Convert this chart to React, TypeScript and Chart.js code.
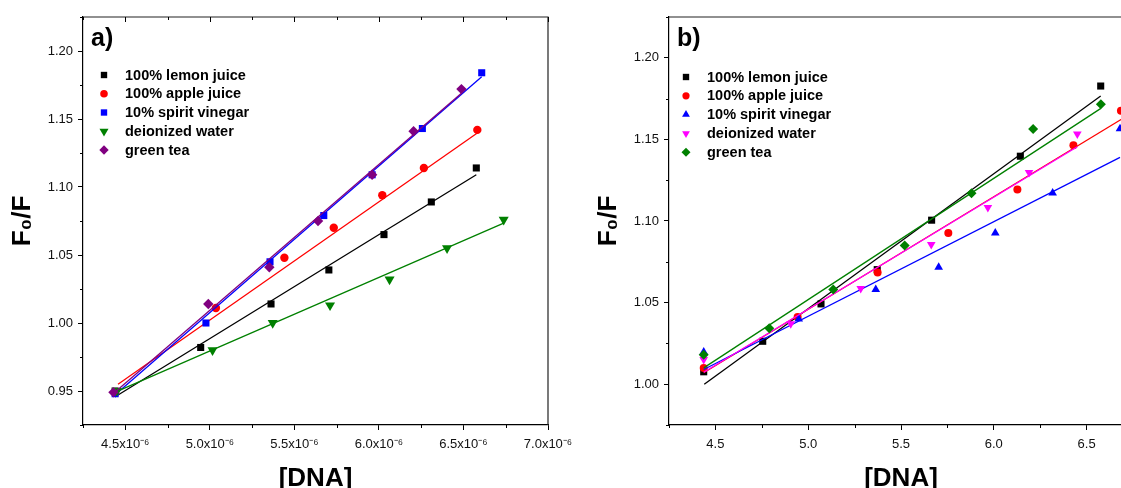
import React, { useEffect, useRef } from 'react';
import { Chart, registerables } from 'chart.js';
import { drawPoint } from 'chart.js/helpers';

Chart.register(...registerables);

const FONT = "'Liberation Sans', Arial, Helvetica, sans-serif";
Chart.defaults.font.family = FONT;
Chart.defaults.color = '#000';

// ---------------- shared ----------------
const seriesNames = ['100% lemon juice', '100% apple juice', '10% spirit vinegar', 'deionized water', 'green tea'];

// ---------------- panel a) ----------------
const aXTicks = [4.5, 5.0, 5.5, 6.0, 6.5, 7.0];
const aXTickLabels = ['4.5x10⁻⁶', '5.0x10⁻⁶', '5.5x10⁻⁶', '6.0x10⁻⁶', '6.5x10⁻⁶', '7.0x10⁻⁶'];
const aYTicks = [0.95, 1.0, 1.05, 1.1, 1.15, 1.2];
const aYTickLabels = ['0.95', '1.00', '1.05', '1.10', '1.15', '1.20'];

const aLemonX = [4.44, 4.946, 5.362, 5.704, 6.03, 6.31, 6.576];
const aLemonY = [0.95, 0.982, 1.014, 1.039, 1.065, 1.089, 1.114];
const aAppleX = [4.44, 5.036, 5.441, 5.733, 6.02, 6.266, 6.582];
const aAppleY = [0.949, 1.011, 1.048, 1.07, 1.094, 1.114, 1.142];
const aVinegarX = [4.44, 4.977, 5.356, 5.674, 5.96, 6.257, 6.608];
const aVinegarY = [0.948, 1.0, 1.045, 1.079, 1.109, 1.143, 1.184];
const aWaterX = [4.45, 5.016, 5.372, 5.711, 6.063, 6.403, 6.738];
const aWaterY = [0.95, 0.98, 1.0, 1.013, 1.032, 1.055, 1.076];
const aTeaX = [4.43, 4.991, 5.352, 5.64, 5.96, 6.205, 6.488];
const aTeaY = [0.949, 1.014, 1.041, 1.075, 1.109, 1.141, 1.172];

const aLemonFitX = [4.438, 6.576];
const aLemonFitY = [0.9456, 1.109];
const aAppleFitX = [4.457, 6.58];
const aAppleFitY = [0.955, 1.1395];
const aVinegarFitX = [4.428, 6.608];
const aVinegarFitY = [0.946, 1.181];
const aWaterFitX = [4.438, 6.738];
const aWaterFitY = [0.949, 1.0735];
const aTeaFitX = [4.428, 6.488];
const aTeaFitY = [0.948, 1.169];

// ---------------- panel b) ----------------
const bXTicks = [4.5, 5.0, 5.5, 6.0, 6.5];
const bXTickLabels = ['4.5', '5.0', '5.5', '6.0', '6.5'];
const bYTicks = [1.0, 1.05, 1.1, 1.15, 1.2];
const bYTickLabels = ['1.00', '1.05', '1.10', '1.15', '1.20'];

const bLemonX = [4.437, 4.755, 5.069, 5.372, 5.665, 6.143, 6.576];
const bLemonY = [1.0076, 1.0263, 1.0492, 1.0702, 1.1005, 1.1397, 1.1827];
const bAppleX = [4.437, 4.943, 5.374, 5.755, 6.127, 6.429, 6.685];
const bAppleY = [1.01, 1.0412, 1.0685, 1.0926, 1.1193, 1.1464, 1.1676];
const bVinegarX = [4.437, 4.949, 5.364, 5.703, 6.008, 6.317, 6.68];
const bVinegarY = [1.0198, 1.04, 1.0581, 1.0716, 1.0926, 1.1172, 1.1566];
const bWaterX = [4.437, 4.906, 5.283, 5.663, 5.968, 6.19, 6.45];
const bWaterY = [1.0151, 1.0371, 1.0587, 1.0856, 1.1083, 1.1297, 1.1533];
const bTeaX = [4.437, 4.79, 5.135, 5.52, 5.88, 6.212, 6.577];
const bTeaY = [1.018, 1.0343, 1.058, 1.085, 1.117, 1.1564, 1.1715];

const bLemonFitX = [4.44, 6.576];
const bLemonFitY = [1.0, 1.1766];
const bAppleFitX = [4.437, 6.69];
const bAppleFitY = [1.007, 1.1625];
const bVinegarFitX = [4.437, 6.68];
const bVinegarFitY = [1.009, 1.139];
const bWaterFitX = [4.437, 6.45];
const bWaterFitY = [1.0073, 1.1455];
const bTeaFitX = [4.437, 6.577];
const bTeaFitY = [1.01, 1.169];

// ---------------- layout ----------------
const H = 500;
const CHART_TOP = 17;
const CHART_BOTTOM = 425;
const AXIS_W = 83;

type Series = {
  name: string; xs: number[]; ys: number[]; fx: number[]; fy: number[];
  color: string; style: string; rot: number; r: number;
};

type PanelSpec = {
  label: string;
  xMin: number; xMax: number; yMin: number; yMax: number;
  xTicks: number[]; xLabels: string[]; yTicks: number[]; yLabels: string[];
  series: Series[];
  padRight: number;
  topTicks: boolean; rightBorder: boolean;
  legMarker: number; legText: number; legY0: number; legDy: number;
};

const panelA: PanelSpec = {
  label: 'a)',
  xMin: 4.25, xMax: 7.0, yMin: 0.925, yMax: 1.225,
  xTicks: aXTicks, xLabels: aXTickLabels, yTicks: aYTicks, yLabels: aYTickLabels,
  series: [
    { name: seriesNames[0], xs: aLemonX, ys: aLemonY, fx: aLemonFitX, fy: aLemonFitY, color: '#000000', style: 'rect', rot: 0, r: 5 },
    { name: seriesNames[1], xs: aAppleX, ys: aAppleY, fx: aAppleFitX, fy: aAppleFitY, color: '#ff0000', style: 'circle', rot: 0, r: 4.2 },
    { name: seriesNames[2], xs: aVinegarX, ys: aVinegarY, fx: aVinegarFitX, fy: aVinegarFitY, color: '#0000ff', style: 'rect', rot: 0, r: 5 },
    { name: seriesNames[3], xs: aWaterX, ys: aWaterY, fx: aWaterFitX, fy: aWaterFitY, color: '#008000', style: 'triangle', rot: 180, r: 5.8 },
    { name: seriesNames[4], xs: aTeaX, ys: aTeaY, fx: aTeaFitX, fy: aTeaFitY, color: '#800080', style: 'rectRot', rot: 0, r: 5.2 },
  ],
  padRight: 40,
  topTicks: true, rightBorder: true,
  legMarker: 21, legText: 42, legY0: 75, legDy: 18.75,
};

const panelB: PanelSpec = {
  label: 'b)',
  xMin: 4.25, xMax: 6.75, yMin: 0.975, yMax: 1.225,
  xTicks: bXTicks, xLabels: bXTickLabels, yTicks: bYTicks, yLabels: bYTickLabels,
  series: [
    { name: seriesNames[0], xs: bLemonX, ys: bLemonY, fx: bLemonFitX, fy: bLemonFitY, color: '#000000', style: 'rect', rot: 0, r: 5 },
    { name: seriesNames[1], xs: bAppleX, ys: bAppleY, fx: bAppleFitX, fy: bAppleFitY, color: '#ff0000', style: 'circle', rot: 0, r: 4 },
    { name: seriesNames[2], xs: bVinegarX, ys: bVinegarY, fx: bVinegarFitX, fy: bVinegarFitY, color: '#0000ff', style: 'triangle', rot: 0, r: 5 },
    { name: seriesNames[3], xs: bWaterX, ys: bWaterY, fx: bWaterFitX, fy: bWaterFitY, color: '#ff00ff', style: 'triangle', rot: 180, r: 5 },
    { name: seriesNames[4], xs: bTeaX, ys: bTeaY, fx: bTeaFitX, fy: bTeaFitY, color: '#008000', style: 'rectRot', rot: 0, r: 5 },
  ],
  padRight: 10,
  topTicks: false, rightBorder: false,
  legMarker: 17, legText: 38, legY0: 77, legDy: 18.8,
};

function minors(major: number[], min: number, max: number): number[] {
  const step = major[1] - major[0];
  const out: number[] = [];
  if (major[0] - step / 2 >= min - 1e-9) out.push(major[0] - step / 2);
  for (let i = 0; i < major.length - 1; i++) out.push((major[i] + major[i + 1]) / 2);
  const last = major[major.length - 1];
  if (last + step / 2 <= max + 1e-9) out.push(last + step / 2);
  return out;
}

const al = (v: number) => Math.round(v) + 0.5;

const decoPlugin = {
  id: 'deco',
  afterDraw(chart: any, _args: any, opts: any) {
    const p: PanelSpec = opts.spec;
    const { ctx, chartArea: ca, scales } = chart;
    const xs = scales.x;
    const ys = scales.y;
    ctx.save();
    ctx.strokeStyle = '#000';
    ctx.lineWidth = 1;
    // minor outward ticks
    ctx.beginPath();
    minors(p.xTicks, p.xMin, p.xMax).forEach((v) => {
      const px = al(xs.getPixelForValue(v));
      ctx.moveTo(px, ca.bottom);
      ctx.lineTo(px, ca.bottom + 3);
    });
    minors(p.yTicks, p.yMin, p.yMax).forEach((v) => {
      const py = al(ys.getPixelForValue(v));
      ctx.moveTo(ca.left, py);
      ctx.lineTo(ca.left - 3, py);
    });
    ctx.stroke();
    // frame (top / right)
    ctx.beginPath();
    ctx.lineWidth = 1.2;
    ctx.strokeStyle = '#222';
    ctx.moveTo(ca.left, ca.top);
    ctx.lineTo(ca.right, ca.top);
    if (p.rightBorder) ctx.lineTo(ca.right, ca.bottom);
    ctx.stroke();
    // inward top ticks
    if (p.topTicks) {
      ctx.beginPath();
      ctx.lineWidth = 1;
      ctx.strokeStyle = '#000';
      p.xTicks.forEach((v) => {
        const px = al(xs.getPixelForValue(v));
        ctx.moveTo(px, ca.top);
        ctx.lineTo(px, ca.top + 5);
      });
      minors(p.xTicks, p.xMin, p.xMax).forEach((v) => {
        const px = al(xs.getPixelForValue(v));
        ctx.moveTo(px, ca.top);
        ctx.lineTo(px, ca.top + 3);
      });
      ctx.stroke();
    }
    // legend
    ctx.font = `bold 14.5px ${FONT}`;
    ctx.textBaseline = 'middle';
    ctx.textAlign = 'left';
    p.series.forEach((s, i) => {
      const y = p.legY0 + i * p.legDy;
      const x = ca.left + p.legMarker;
      ctx.fillStyle = s.color;
      ctx.strokeStyle = s.color;
      drawPoint(ctx, { pointStyle: s.style as any, rotation: s.rot, radius: s.r * 0.9, borderWidth: 0 }, x, y);
      ctx.fillStyle = '#000';
      ctx.fillText(s.name, ca.left + p.legText, y + 0.5);
    });
    // panel label
    ctx.font = `bold 25px ${FONT}`;
    ctx.textBaseline = 'alphabetic';
    ctx.fillStyle = '#000';
    ctx.fillText(p.label, ca.left + 8, 46);
    ctx.restore();
  },
};

function buildConfig(p: PanelSpec): any {
  const datasets: any[] = [];
  const n = p.series.length;
  p.series.forEach((s, i) => {
    datasets.push({
      label: s.name,
      data: s.xs.map((x, j) => ({ x, y: s.ys[j] })),
      showLine: false,
      pointStyle: s.style,
      pointRotation: s.rot,
      pointRadius: s.r,
      pointHoverRadius: s.r,
      pointBorderWidth: 0,
      backgroundColor: s.color,
      borderColor: s.color,
      order: (n - i) * 2,
    });
    datasets.push({
      label: s.name + ' (fit)',
      data: s.fx.map((x, j) => ({ x, y: s.fy[j] })),
      showLine: true,
      pointRadius: 0,
      pointHoverRadius: 0,
      borderColor: s.color,
      backgroundColor: s.color,
      borderWidth: 1.3,
      fill: false,
      order: (n - i) * 2 + 1,
    });
  });

  return {
    type: 'scatter',
    data: { datasets },
    options: {
      responsive: false,
      animation: false,
      events: [],
      layout: { padding: { left: 0, top: CHART_TOP, right: p.padRight, bottom: 0 } },
      plugins: {
        legend: { display: false },
        tooltip: { enabled: false },
        title: { display: false },
        deco: { spec: p },
      },
      scales: {
        x: {
          type: 'linear',
          position: 'bottom',
          min: p.xMin,
          max: p.xMax,
          afterBuildTicks: (sc: any) => {
            sc.ticks = p.xTicks.map((v) => ({ value: v }));
          },
          afterFit: (sc: any) => {
            sc.height = H - CHART_BOTTOM;
          },
          ticks: {
            autoSkip: false,
            maxRotation: 0,
            padding: 7,
            color: '#111',
            font: { family: FONT, size: 13 },
            callback: (_v: any, i: number) => p.xLabels[i],
          },
          grid: { drawOnChartArea: false, drawTicks: true, tickLength: 5, tickColor: '#000', tickWidth: 1 },
          border: { display: true, color: '#000', width: 1.2 },
          title: {
            display: true,
            text: '[DNA]',
            color: '#000',
            font: { family: FONT, size: 26, weight: 'bold' },
            padding: { top: 0, bottom: 6 },
          },
        },
        y: {
          type: 'linear',
          position: 'left',
          min: p.yMin,
          max: p.yMax,
          afterBuildTicks: (sc: any) => {
            sc.ticks = p.yTicks.map((v) => ({ value: v }));
          },
          afterFit: (sc: any) => {
            sc.width = AXIS_W;
          },
          ticks: {
            autoSkip: false,
            padding: 5,
            color: '#111',
            font: { family: FONT, size: 13 },
            callback: (_v: any, i: number) => p.yLabels[i],
          },
          grid: { drawOnChartArea: false, drawTicks: true, tickLength: 5, tickColor: '#000', tickWidth: 1 },
          border: { display: true, color: '#000', width: 1.2 },
          title: {
            display: true,
            text: 'F₀/F',
            color: '#000',
            font: { family: FONT, size: 26, weight: 'bold' },
            padding: { top: 7.4, bottom: 0 },
          },
        },
      },
    },
    plugins: [decoPlugin],
  };
}

function Panel({ spec, left, width }: { spec: PanelSpec; left: number; width: number }) {
  const ref = useRef<HTMLCanvasElement>(null);
  useEffect(() => {
    if (!ref.current) return;
    const chart = new Chart(ref.current, buildConfig(spec));
    return () => chart.destroy();
  }, [spec]);
  return (
    <canvas
      ref={ref}
      width={width}
      height={H}
      style={{ position: 'absolute', left, top: 0, width, height: H }}
    />
  );
}

export default function App() {
  return (
    <div
      style={{
        position: 'absolute',
        left: 0,
        top: 0,
        width: 1121,
        height: 488,
        overflow: 'hidden',
        background: '#ffffff',
      }}
    >
      <Panel spec={panelA} left={0} width={548 + panelA.padRight} />
      <Panel spec={panelB} left={586} width={547 + panelB.padRight} />
    </div>
  );
}
